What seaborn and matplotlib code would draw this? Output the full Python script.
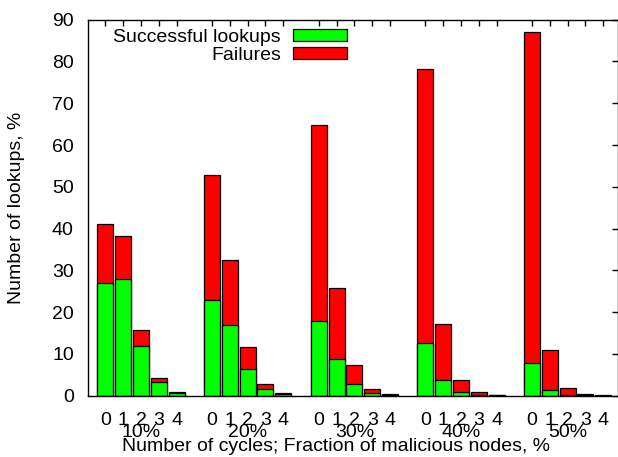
import numpy as np
import pandas as pd
import matplotlib
matplotlib.use("Agg")
import matplotlib.pyplot as plt
import seaborn as sns
from matplotlib.patches import Patch
import matplotlib.transforms as mtransforms

# ---- data ----
groups = ["10%", "20%", "30%", "40%", "50%"]
cycles = ["0", "1", "2", "3", "4"]
success_10 = [26.9, 27.9, 12.0, 3.2, 0.7]
success_20 = [22.8, 16.9, 6.3, 1.5, 0.3]
success_30 = [17.8, 8.9, 2.9, 0.7, 0.1]
success_40 = [12.5, 3.7, 0.9, 0.1, 0.05]
success_50 = [7.8, 1.45, 0.1, 0.05, 0.0]
failures_10 = [14.1, 10.35, 3.8, 1.0, 0.1]
failures_20 = [30.0, 15.5, 5.4, 1.3, 0.25]
failures_30 = [47.0, 16.9, 4.5, 0.9, 0.3]
failures_40 = [65.6, 13.5, 2.9, 0.7, 0.05]
failures_50 = [79.2, 9.45, 1.75, 0.3, 0.1]

successes = [success_10, success_20, success_30, success_40, success_50]
failures = [failures_10, failures_20, failures_30, failures_40, failures_50]

rows = []
for gi, g in enumerate(groups):
    for ci, c in enumerate(cycles):
        s = successes[gi][ci]
        f = failures[gi][ci]
        rows.append({"pos": gi * (len(cycles) + 1) + ci, "group": g, "cycle": c,
                     "success": s, "total": s + f})
df = pd.DataFrame(rows)

sns.set_style("white")
plt.rcParams["font.family"] = ["Liberation Sans", "DejaVu Sans"]
FS = 14
plt.rcParams["font.size"] = FS
for k in ["text.color", "axes.labelcolor", "xtick.color", "ytick.color", "axes.edgecolor"]:
    plt.rcParams[k] = "black"

W, H = 618, 457
fig = plt.figure(figsize=(W / 100, H / 100), dpi=100)
L, R, T, B = 87.7, 617.5, 19.7, 395.7
ax = fig.add_axes([L / W, 1 - B / H, (R - L) / W, (B - T) / H])

RED = "#ff0000"
GREEN = "#00ff00"
sns.barplot(data=df, x="pos", y="total", native_scale=True, color=RED, saturation=1,
            width=0.9, edgecolor="black", linewidth=0.9, errorbar=None, ax=ax)
sns.barplot(data=df, x="pos", y="success", native_scale=True, color=GREEN, saturation=1,
            width=0.9, edgecolor="black", linewidth=0.9, errorbar=None, ax=ax)

ax.set_xlim(-1, 28.8)
ax.set_ylim(0, 90)
ax.set_yticks(np.arange(0, 91, 10))
ax.set_xticks(df["pos"])
ax.set_xticklabels(df["cycle"])
ax.set_xlabel("")
ax.set_ylabel("")
for sp in ax.spines.values():
    sp.set_visible(True)
    sp.set_color("black")
    sp.set_linewidth(1.0)
ax.tick_params(axis="both", direction="in", length=4, width=1, color="black",
               labelcolor="black", top=True, right=True, labelsize=FS)
ax.tick_params(axis="x", pad=12)
ax.tick_params(axis="y", pad=10)

# group labels
trans = mtransforms.blended_transform_factory(ax.transData, ax.transAxes)
for gi, g in enumerate(groups):
    center = gi * (len(cycles) + 1) + 2
    ax.text(center, -0.074, g, transform=trans, ha="center", va="top", fontsize=FS)

fig.text(336 / W, 1 - 438 / H, "Number of cycles; Fraction of malicious nodes, %",
         ha="center", va="top", fontsize=FS)
fig.text(17 / W, 1 - (T + B) / 2 / H, "Number of lookups, %", rotation=90,
         ha="center", va="center", fontsize=FS)

handles = [Patch(facecolor=GREEN, edgecolor="black", linewidth=0.9, label="Successful lookups"),
           Patch(facecolor=RED, edgecolor="black", linewidth=0.9, label="Failures")]
leg = ax.legend(handles=handles, loc="upper right", markerfirst=False, frameon=False,
                bbox_to_anchor=(347 / W, 1 - 29 / H), bbox_transform=fig.transFigure,
                handlelength=2.78, handleheight=0.52, handletextpad=0.62,
                labelspacing=0.05, borderpad=0, borderaxespad=0, fontsize=FS)

fig.savefig("out.png", dpi=100)
